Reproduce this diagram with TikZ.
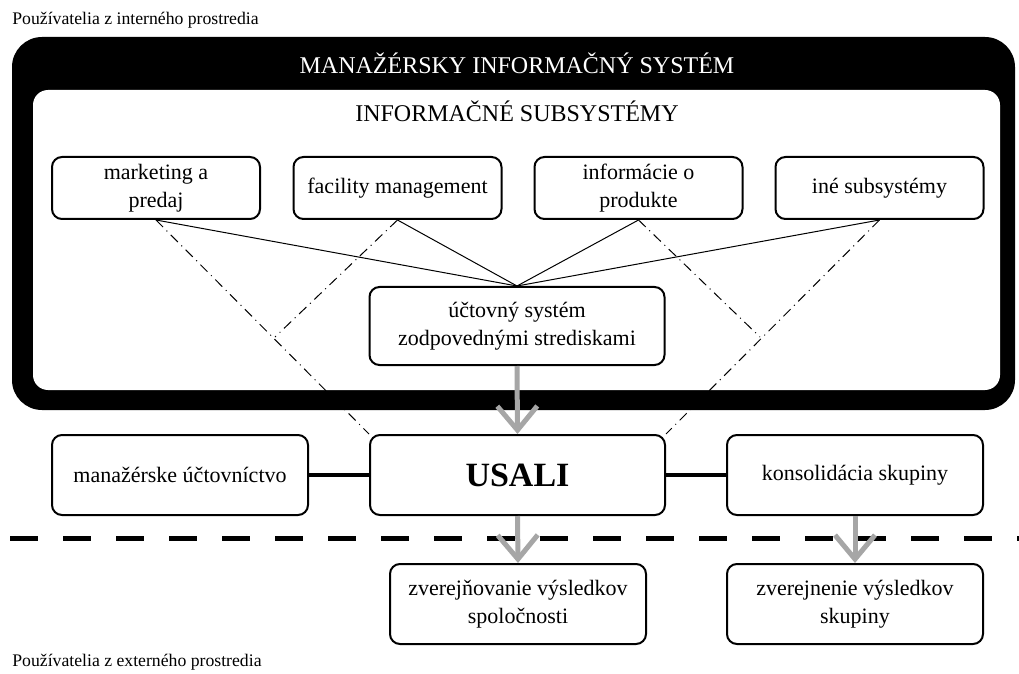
\documentclass[tikz,border=0pt]{standalone}
\usepackage{fontspec}
\setmainfont{Liberation Serif}
\usetikzlibrary{arrows.meta}
\definecolor{arrowgray}{RGB}{166,166,166}

\begin{document}
\begin{tikzpicture}[x=0.5pt,y=-0.5pt,
    box/.style={draw, line width=1pt, rounded corners=5pt, fill=white, align=center,
        inner sep=0pt, font=\fontsize{11}{14}\selectfont},
    subbox/.style={box, minimum width=104pt, minimum height=31pt},
    midbox/.style={box, minimum width=128pt, minimum height=40pt},
    flow/.style={draw=arrowgray, line width=2.5pt, -{Straight Barb[length=12pt,width=20pt]}},
    link/.style={line width=2pt},
    feed/.style={line width=0.5pt},
    cross/.style={line width=0.5pt, dash pattern=on 5pt off 2.5pt on 0.5pt off 2.5pt},
    title/.style={font=\fontsize{12}{14}\selectfont},
    note/.style={anchor=base west, inner sep=0pt, font=\fontsize{8.85}{10}\selectfont}]

    \useasboundingbox (0,0) rectangle (1019,674);

    % users above
    \node[note] (intern) at (12,25) {Používatelia z interného prostredia};

    % MIS frame:
    \fill[black, rounded corners=15pt] (12,37) rectangle (1015,410);
    \fill[white, rounded corners=7.5pt] (33,90) rectangle (1000,390);
    \node[title, white] (mis) at (517,63) {MANAŽÉRSKY INFORMAČNÝ SYSTÉM};
    \node[title] (subs) at (517,111) {INFORMAČNÉ SUBSYSTÉMY};

    % subsystems
    \node[subbox] (mkt) at (156,188) {marketing a\\predaj};
    \node[subbox] (fac) at (397.5,188) {facility management};
    \node[subbox] (prod) at (638.5,188) {informácie o\\produkte};
    \node[subbox] (other) at (879.5,188) {iné subsystémy};

    \node[box, minimum width=147.5pt, minimum height=39pt] (acc) at (517,326) {účtovný systém\\zodpovednými strediskami};

    % USALI row
    \node[midbox] (mgmt) at (180,475) {manažérske účtovníctvo};
    \node[box, minimum width=147.5pt, minimum height=40pt, font=\fontsize{17}{20}\selectfont\bfseries] (usali) at (517.5,475) {USALI};
    \node[midbox] (cons) at (855,475) {konsolidácia skupiny};

    % publication
    \node[midbox] (pubco) at (518,604) {zverejňovanie výsledkov\\spoločnosti};
    \node[midbox] (pubgrp) at (855,604) {zverejnenie výsledkov\\skupiny};

    % feeds into the accounting system
    \draw[feed] (mkt.south) -- (acc.north);
    \draw[feed] (fac.south) -- (acc.north);
    \draw[feed] (prod.south) -- (acc.north);
    \draw[feed] (other.south) -- (acc.north);

    % dash-dot:
    \coordinate (xl) at (275,337);
    \coordinate (xr) at (760,337);
    \draw[cross] (mkt.south) -- (usali.north west);
    \draw[cross] (fac.south) -- (xl);
    \draw[cross] (prod.south) -- (xr);
    \draw[cross] (other.south) -- (usali.north east);

    \draw[link] (mgmt) -- (usali);
    \draw[link] (usali) -- (cons);

    % boundary
    \coordinate (sepl) at (10,538);
    \coordinate (sepr) at (1019,538);
    \draw[line width=2.5pt, dash pattern=on 14pt off 12.5pt] (sepl) -- (sepr);

    \draw[flow] (acc.south) -- (usali.north);
    \draw[flow] (usali.south) -- (pubco.north);
    \draw[flow] (cons.south) -- (pubgrp.north);

    % users below
    \node[note] (extern) at (12,666) {Používatelia z externého prostredia};

\end{tikzpicture}
\end{document}
